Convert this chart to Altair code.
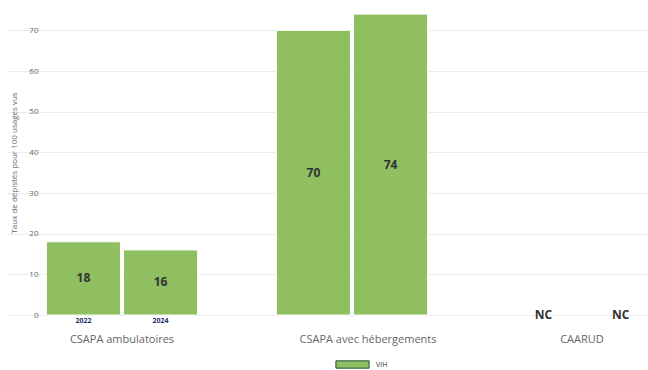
import altair as alt
import pandas as pd

# Source values
structures = ["CSAPA ambulatoires", "CSAPA avec hébergements", "CAARUD"]
annees = ["2022", "2024"]
taux_2022 = [18, 70, None]
taux_2024 = [16, 74, None]
serie = "VIH"

rows = []
for i, s in enumerate(structures):
    for annee, vals in zip(annees, [taux_2022, taux_2024]):
        rows.append({"structure": s, "annee": annee, "taux": vals[i], "serie": serie})
df = pd.DataFrame(rows)
df["label"] = df["taux"].apply(lambda v: "NC" if pd.isna(v) else f"{v:.0f}")

GREEN = "#8fbf60"
W, H = 595, 305

x_enc = alt.X(
    "structure:N",
    sort=structures,
    scale=alt.Scale(range=[-38, 652], paddingInner=0, paddingOuter=0),
    axis=alt.Axis(
        title=None, labelAngle=0, domain=False, ticks=False, labelPadding=18,
        labelFontSize=11, labelColor="#666666", labelFont="Open Sans", grid=False,
        labelOffset={
            "condition": {"test": f"datum.value == '{structures[1]}'", "value": 16},
            "value": 0,
        },
    ),
)
xoff = alt.XOffset("annee:N", sort=annees,
                   scale=alt.Scale(paddingInner=0.04, paddingOuter=0.51))

y_scale = alt.Scale(domain=[0, 75], nice=False)

base = alt.Chart(df).encode(x=x_enc, xOffset=xoff)

bars = base.mark_bar(stroke="white", strokeWidth=1).encode(
    y=alt.Y(
        "taux:Q", scale=y_scale,
        axis=alt.Axis(
            title="Taux de dépistés pour 100 usages vus", values=list(range(0, 80, 10)),
            domain=False, ticks=False, labelPadding=7, labelFontSize=8,
            labelColor="#666666", labelFont="Open Sans", titleFontSize=8,
            titleFont="Open Sans", titleFontWeight="normal", titleColor="#666666",
            titlePadding=10, gridColor="#ececec", gridWidth=1,
        ),
    ),
    color=alt.Color(
        "serie:N", scale=alt.Scale(range=[GREEN]),
        legend=alt.Legend(
            title=None, orient="none", legendX=290, legendY=337,
            direction="horizontal",
            symbolType="M-1,-0.22L1,-0.22L1,0.22L-1,0.22Z", symbolSize=1100,
            symbolStrokeColor="#1f4e3d", symbolStrokeWidth=1, symbolOpacity=1,
            labelFontSize=7, labelFont="Open Sans", labelColor="#333333",
            labelOffset=6,
        ),
    ),
)

values_txt = base.transform_filter("datum.taux != null").transform_calculate(
    mid="datum.taux / 2"
).mark_text(fontSize=12, fontWeight="bold", color="#333333", font="Open Sans").encode(
    y=alt.Y("mid:Q", scale=y_scale), text="label:N"
)

nc_txt = base.transform_filter("datum.taux == null").mark_text(
    fontSize=12, fontWeight="bold", color="#333333", font="Open Sans", baseline="middle"
).encode(y=alt.datum(0, scale=y_scale), text="label:N")

annee_txt = base.transform_filter(
    alt.datum.structure == structures[0]
).mark_text(
    fontSize=7, fontWeight="bold", color="#1a2f6b", font="Open Sans", dy=6,
    baseline="middle"
).encode(y=alt.datum(0, scale=y_scale), text="annee:N")

chart = alt.layer(bars, values_txt, nc_txt, annee_txt).properties(
    width=W, height=H,
    background="white",
    autosize=alt.AutoSizeParams(type="none"),
    padding={"left": 45, "top": 10, "right": 8, "bottom": 55},
).configure_view(stroke=None)

chart.save("out.html", embed_options={"renderer": "svg", "actions": False})
